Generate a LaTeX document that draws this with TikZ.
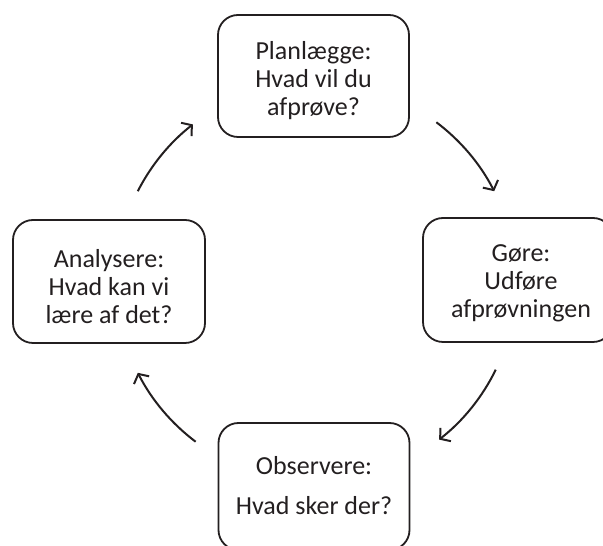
\documentclass[tikz,border=0pt]{standalone}
\usepackage{fontspec}
\setmainfont{Carlito}
\usetikzlibrary{arrows.meta}
\definecolor{ink}{HTML}{231F20}
\begin{document}
\begin{tikzpicture}[x=1pt,y=1pt,
  stagebox/.style={draw=ink, line width=1.8pt, rounded corners=20pt, inner sep=0pt, minimum width=191pt},
  stagetext/.style={align=center, text=ink, font=\fontsize{26}{28}\selectfont, inner sep=0pt},
  cyclearrow/.style={draw=ink, line width=2pt, -{Straight Barb[length=7pt,width=17pt,line width=2pt]}}]
\useasboundingbox (0,0) rectangle (603,546);
\clip (0,0) rectangle (603,546);
\node[stagebox, minimum height=122pt] (plan) at (313.5,470) {};
\node[stagebox, minimum height=124pt, minimum width=190pt] (goere) at (518,266) {};
\node[stagebox, minimum height=127pt] (obs) at (314,59.5) {};
\node[stagebox, minimum height=123pt, minimum width=192pt] (anal) at (109,264.5) {};
\node[stagetext] (plantxt) at ([yshift=-5pt]plan.center) {Planlægge:\\Hvad vil du\\afprøve?};
\node[stagetext] (goeretxt) at ([xshift=3pt,yshift=-3pt]goere.center) {Gøre:\\Udføre\\afprøvningen};
\node[stagetext] (obstxt) at ([yshift=1pt]obs.center) {Observere:\\[12pt]Hvad sker der?};
\node[stagetext] (analtxt) at ([yshift=-5pt]anal.center) {Analysere:\\Hvad kan vi\\lære af det?};
\coordinate (c) at (316,264);
\path (c) ++(153:200) coordinate (a1s);
\path (c) ++(53:200) coordinate (a2s);
\path (c) ++(-26:200) coordinate (a3s);
\path (c) ++(-127:200) coordinate (a4s);
\draw[cyclearrow] (a1s) arc[start angle=153, end angle=128, radius=200];
\draw[cyclearrow] (a2s) arc[start angle=53, end angle=27, radius=200];
\draw[cyclearrow] (a3s) arc[start angle=-26, end angle=-52, radius=200];
\draw[cyclearrow] (a4s) arc[start angle=-127, end angle=-153, radius=200];
\end{tikzpicture}
\end{document}
